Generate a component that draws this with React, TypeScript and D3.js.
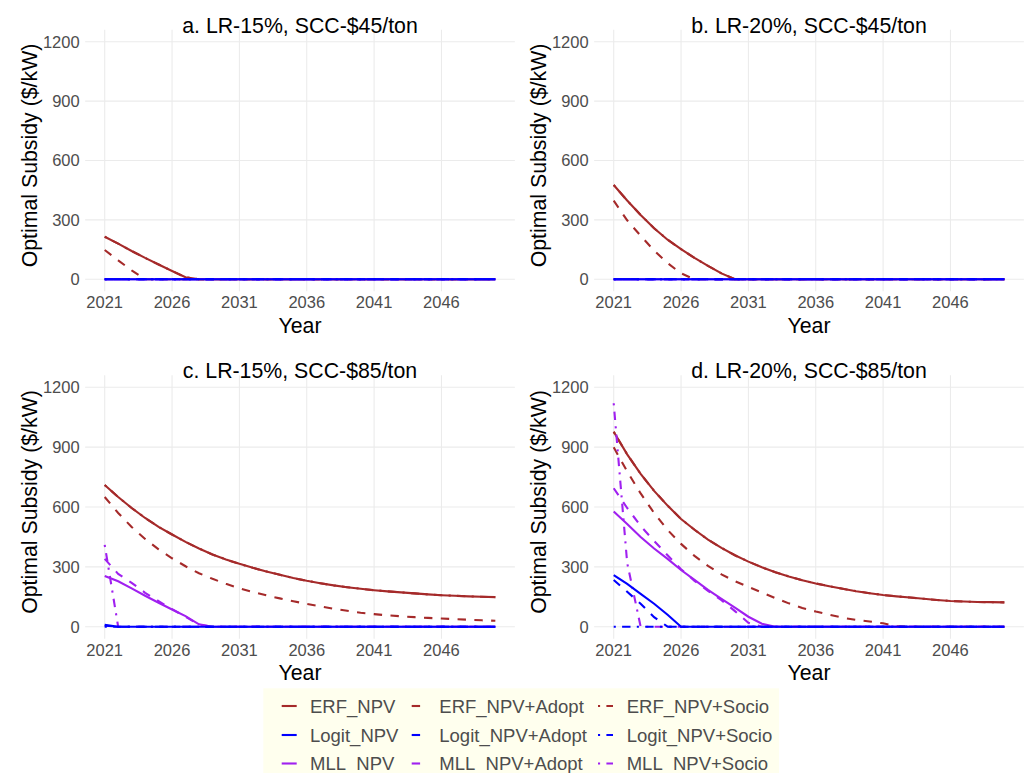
import React, { useRef, useEffect } from 'react';
import * as d3 from 'd3';

const years = [2021, 2022, 2023, 2024, 2025, 2026, 2027, 2028, 2029, 2030,
    2031, 2032, 2033, 2034, 2035, 2036, 2037, 2038, 2039, 2040,
    2041, 2042, 2043, 2044, 2045, 2046, 2047, 2048, 2049, 2050];

const yTicks = [0, 300, 600, 900, 1200];
const xTicks = [2021, 2026, 2031, 2036, 2041, 2046];

// a. LR-15%, SCC-$45/ton
const erfNpvA = [215, 180, 143, 108, 75, 42, 10, 0, 0, 0, 0, 0, 0, 0, 0, 0, 0, 0, 0, 0, 0, 0, 0, 0, 0, 0, 0, 0, 0, 0];
const erfAdoptA = [148, 96, 45, 0, 0, 0, 0, 0, 0, 0, 0, 0, 0, 0, 0, 0, 0, 0, 0, 0, 0, 0, 0, 0, 0, 0, 0, 0, 0, 0];
const erfSocioA = [215, 180, 143, 108, 75, 42, 10, 0, 0, 0, 0, 0, 0, 0, 0, 0, 0, 0, 0, 0, 0, 0, 0, 0, 0, 0, 0, 0, 0, 0];
const logitNpvA = [0, 0, 0, 0, 0, 0, 0, 0, 0, 0, 0, 0, 0, 0, 0, 0, 0, 0, 0, 0, 0, 0, 0, 0, 0, 0, 0, 0, 0, 0];
const logitAdoptA = [0, 0, 0, 0, 0, 0, 0, 0, 0, 0, 0, 0, 0, 0, 0, 0, 0, 0, 0, 0, 0, 0, 0, 0, 0, 0, 0, 0, 0, 0];
const logitSocioA = [0, 0, 0, 0, 0, 0, 0, 0, 0, 0, 0, 0, 0, 0, 0, 0, 0, 0, 0, 0, 0, 0, 0, 0, 0, 0, 0, 0, 0, 0];
const mllNpvA = [0, 0, 0, 0, 0, 0, 0, 0, 0, 0, 0, 0, 0, 0, 0, 0, 0, 0, 0, 0, 0, 0, 0, 0, 0, 0, 0, 0, 0, 0];
const mllAdoptA = [0, 0, 0, 0, 0, 0, 0, 0, 0, 0, 0, 0, 0, 0, 0, 0, 0, 0, 0, 0, 0, 0, 0, 0, 0, 0, 0, 0, 0, 0];
const mllSocioA = [0, 0, 0, 0, 0, 0, 0, 0, 0, 0, 0, 0, 0, 0, 0, 0, 0, 0, 0, 0, 0, 0, 0, 0, 0, 0, 0, 0, 0, 0];

// b. LR-20%, SCC-$45/ton
const erfNpvB = [476, 398, 325, 258, 200, 152, 108, 68, 30, 0, 0, 0, 0, 0, 0, 0, 0, 0, 0, 0, 0, 0, 0, 0, 0, 0, 0, 0, 0, 0];
const erfAdoptB = [397, 298, 220, 145, 82, 30, 0, 0, 0, 0, 0, 0, 0, 0, 0, 0, 0, 0, 0, 0, 0, 0, 0, 0, 0, 0, 0, 0, 0, 0];
const erfSocioB = [476, 398, 325, 258, 200, 152, 108, 68, 30, 0, 0, 0, 0, 0, 0, 0, 0, 0, 0, 0, 0, 0, 0, 0, 0, 0, 0, 0, 0, 0];
const logitNpvB = [0, 0, 0, 0, 0, 0, 0, 0, 0, 0, 0, 0, 0, 0, 0, 0, 0, 0, 0, 0, 0, 0, 0, 0, 0, 0, 0, 0, 0, 0];
const logitAdoptB = [0, 0, 0, 0, 0, 0, 0, 0, 0, 0, 0, 0, 0, 0, 0, 0, 0, 0, 0, 0, 0, 0, 0, 0, 0, 0, 0, 0, 0, 0];
const logitSocioB = [0, 0, 0, 0, 0, 0, 0, 0, 0, 0, 0, 0, 0, 0, 0, 0, 0, 0, 0, 0, 0, 0, 0, 0, 0, 0, 0, 0, 0, 0];
const mllNpvB = [0, 0, 0, 0, 0, 0, 0, 0, 0, 0, 0, 0, 0, 0, 0, 0, 0, 0, 0, 0, 0, 0, 0, 0, 0, 0, 0, 0, 0, 0];
const mllAdoptB = [0, 0, 0, 0, 0, 0, 0, 0, 0, 0, 0, 0, 0, 0, 0, 0, 0, 0, 0, 0, 0, 0, 0, 0, 0, 0, 0, 0, 0, 0];
const mllSocioB = [0, 0, 0, 0, 0, 0, 0, 0, 0, 0, 0, 0, 0, 0, 0, 0, 0, 0, 0, 0, 0, 0, 0, 0, 0, 0, 0, 0, 0, 0];

// c. LR-15%, SCC-$85/ton
const erfNpvC = [710, 650, 595, 545, 500, 462, 425, 392, 362, 337, 315, 295, 277, 260, 244, 230, 218, 207, 198, 190, 183, 177, 172, 167, 162, 158, 155, 152, 150, 148];
const erfAdoptC = [650, 570, 500, 440, 388, 343, 303, 268, 240, 215, 193, 174, 157, 142, 128, 114, 102, 90, 80, 70, 63, 57, 52, 48, 44, 41, 38, 35, 32, 30];
const erfSocioC = [710, 650, 595, 545, 500, 462, 425, 392, 362, 337, 315, 295, 277, 260, 244, 230, 218, 207, 198, 190, 183, 177, 172, 167, 162, 158, 155, 152, 150, 148];
const logitNpvC = [10, 0, 0, 0, 0, 0, 0, 0, 0, 0, 0, 0, 0, 0, 0, 0, 0, 0, 0, 0, 0, 0, 0, 0, 0, 0, 0, 0, 0, 0];
const logitAdoptC = [5, 0, 0, 0, 0, 0, 0, 0, 0, 0, 0, 0, 0, 0, 0, 0, 0, 0, 0, 0, 0, 0, 0, 0, 0, 0, 0, 0, 0, 0];
const logitSocioC = [0, 0, 0, 0, 0, 0, 0, 0, 0, 0, 0, 0, 0, 0, 0, 0, 0, 0, 0, 0, 0, 0, 0, 0, 0, 0, 0, 0, 0, 0];
const mllNpvC = [254, 228, 192, 155, 120, 86, 53, 12, 0, 0, 0, 0, 0, 0, 0, 0, 0, 0, 0, 0, 0, 0, 0, 0, 0, 0, 0, 0, 0, 0];
const mllAdoptC = [340, 265, 220, 170, 128, 88, 50, 10, 0, 0, 0, 0, 0, 0, 0, 0, 0, 0, 0, 0, 0, 0, 0, 0, 0, 0, 0, 0, 0, 0];
const mllSocioC = [410, 0, 0, 0, 0, 0, 0, 0, 0, 0, 0, 0, 0, 0, 0, 0, 0, 0, 0, 0, 0, 0, 0, 0, 0, 0, 0, 0, 0, 0];

// d. LR-20%, SCC-$85/ton
const erfNpvD = [977, 864, 766, 681, 607, 540, 486, 437, 395, 358, 326, 298, 273, 252, 233, 217, 203, 190, 178, 168, 159, 152, 146, 140, 134, 129, 126, 124, 123, 122];
const erfAdoptD = [899, 778, 668, 570, 485, 415, 355, 305, 262, 228, 199, 172, 143, 117, 94, 76, 60, 45, 34, 26, 17, 2, 0, 0, 0, 0, 0, 0, 0, 0];
const erfSocioD = [977, 864, 766, 681, 607, 540, 486, 437, 395, 358, 326, 298, 273, 252, 233, 217, 203, 190, 178, 168, 159, 152, 146, 140, 134, 129, 126, 124, 123, 122];
const logitNpvD = [259, 215, 165, 115, 60, 0, 0, 0, 0, 0, 0, 0, 0, 0, 0, 0, 0, 0, 0, 0, 0, 0, 0, 0, 0, 0, 0, 0, 0, 0];
const logitAdoptD = [234, 175, 115, 48, 0, 0, 0, 0, 0, 0, 0, 0, 0, 0, 0, 0, 0, 0, 0, 0, 0, 0, 0, 0, 0, 0, 0, 0, 0, 0];
const logitSocioD = [0, 0, 0, 0, 0, 0, 0, 0, 0, 0, 0, 0, 0, 0, 0, 0, 0, 0, 0, 0, 0, 0, 0, 0, 0, 0, 0, 0, 0, 0];
const mllNpvD = [577, 515, 450, 392, 340, 284, 235, 185, 140, 95, 50, 15, 0, 0, 0, 0, 0, 0, 0, 0, 0, 0, 0, 0, 0, 0, 0, 0, 0, 0];
const mllAdoptD = [694, 595, 505, 430, 358, 288, 230, 180, 133, 78, 20, 0, 0, 0, 0, 0, 0, 0, 0, 0, 0, 0, 0, 0, 0, 0, 0, 0, 0, 0];
const mllSocioD = [1120, 320, 0, 0, 0, 0, 0, 0, 0, 0, 0, 0, 0, 0, 0, 0, 0, 0, 0, 0, 0, 0, 0, 0, 0, 0, 0, 0, 0, 0];

const seriesNames = ['ERF_NPV', 'ERF_NPV+Adopt', 'ERF_NPV+Socio',
    'Logit_NPV', 'Logit_NPV+Adopt', 'Logit_NPV+Socio',
    'MLL_NPV', 'MLL_NPV+Adopt', 'MLL_NPV+Socio'];

const panels = [
    { title: 'a. LR-15%, SCC-$45/ton', row: 0, col: 0,
      series: [erfNpvA, erfAdoptA, erfSocioA, logitNpvA, logitAdoptA, logitSocioA, mllNpvA, mllAdoptA, mllSocioA] },
    { title: 'b. LR-20%, SCC-$45/ton', row: 0, col: 1,
      series: [erfNpvB, erfAdoptB, erfSocioB, logitNpvB, logitAdoptB, logitSocioB, mllNpvB, mllAdoptB, mllSocioB] },
    { title: 'c. LR-15%, SCC-$85/ton', row: 1, col: 0,
      series: [erfNpvC, erfAdoptC, erfSocioC, logitNpvC, logitAdoptC, logitSocioC, mllNpvC, mllAdoptC, mllSocioC] },
    { title: 'd. LR-20%, SCC-$85/ton', row: 1, col: 1,
      series: [erfNpvD, erfAdoptD, erfSocioD, logitNpvD, logitAdoptD, logitSocioD, mllNpvD, mllAdoptD, mllSocioD] },
];

const colors = ['#A52A2A', '#0000FF', '#A020F0'];
const LW = 2.1;
const dashes = ['none', `${4 * LW},${4 * LW}`, `${LW},${3 * LW},${4 * LW},${3 * LW}`];
// ERF first, then MLL, Logit on top (solid Logit last so the zero line reads solid blue)
const drawOrder = [2, 1, 0, 8, 7, 6, 5, 4, 3];

// pixel anchors of each grid cell
const rows = [{ y0: 279.3, y1200: 41.7 }, { y0: 626.7, y1200: 387.3 }];
const cols = [{ x2021: 104.7 }, { x2021: 613.7 }];
const PX_PER_YEAR = 13.47;

const FONT = "'Liberation Sans', Arial, sans-serif";

const App = () => {
    const ref = useRef<SVGSVGElement>(null);

    useEffect(() => {
        const svg = d3.select(ref.current);
        svg.selectAll('*').remove();

        svg.append('rect').attr('width', 1025).attr('height', 773).attr('fill', '#fff');

        panels.forEach(p => {
            const r = rows[p.row];
            const c = cols[p.col];
            const x = d3.scaleLinear()
                .domain([2021, 2050])
                .range([c.x2021, c.x2021 + 29 * PX_PER_YEAR]);
            const y = d3.scaleLinear()
                .domain([0, 1200])
                .range([r.y0, r.y1200]);
            const left = x(2019.55), right = x(2051.45);
            const top = y(1260), bottom = y(-60);

            const g = svg.append('g');

            // grid
            g.selectAll('.hg').data(yTicks).enter().append('line')
                .attr('x1', left).attr('x2', right)
                .attr('y1', d => y(d)).attr('y2', d => y(d))
                .attr('stroke', '#ebebeb').attr('stroke-width', 1.07);
            g.selectAll('.vg').data(xTicks).enter().append('line')
                .attr('y1', top).attr('y2', bottom)
                .attr('x1', d => x(d)).attr('x2', d => x(d))
                .attr('stroke', '#ebebeb').attr('stroke-width', 1.07);

            // lines
            const line = d3.line<number>()
                .x((_, i) => x(years[i]))
                .y(d => y(d));
            drawOrder.forEach(k => {
                g.append('path')
                    .datum(p.series[k])
                    .attr('d', line)
                    .attr('fill', 'none')
                    .attr('stroke', colors[Math.floor(k / 3)])
                    .attr('stroke-width', LW)
                    .attr('stroke-dasharray', dashes[k % 3]);
            });

            // tick labels
            g.selectAll('.yl').data(yTicks).enter().append('text')
                .attr('x', left - 5.5).attr('y', d => y(d) + 5.9)
                .attr('text-anchor', 'end')
                .attr('font-family', FONT).attr('font-size', 16.5).attr('fill', '#4d4d4d')
                .text(d => d);
            g.selectAll('.xl').data(xTicks).enter().append('text')
                .attr('x', d => x(d)).attr('y', r.y0 + 29)
                .attr('text-anchor', 'middle')
                .attr('font-family', FONT).attr('font-size', 16.5).attr('fill', '#4d4d4d')
                .text(d => d);

            // titles
            g.append('text')
                .attr('x', (left + right) / 2).attr('y', top + 3)
                .attr('text-anchor', 'middle')
                .attr('font-family', FONT).attr('font-size', 21.3).attr('fill', '#000')
                .text(p.title);
            g.append('text')
                .attr('x', (left + right) / 2).attr('y', r.y0 + 53.5)
                .attr('text-anchor', 'middle')
                .attr('font-family', FONT).attr('font-size', 21.3).attr('fill', '#000')
                .text('Year');
            const ty = (top + bottom) / 2 - 5;
            g.append('text')
                .attr('transform', `translate(${left - 48.6},${ty}) rotate(-90)`)
                .attr('text-anchor', 'middle')
                .attr('font-family', FONT).attr('font-size', 21.3).attr('fill', '#000')
                .text('Optimal Subsidy ($/kW)');
        });

        // legend
        const lg = svg.append('g');
        lg.append('rect')
            .attr('x', 263.3).attr('y', 688.3)
            .attr('width', 515.7).attr('height', 120)
            .attr('fill', '#FFFFEE');
        const rowY = [706, 735, 763.5];
        const keyX = [281.7, 411.7, 598];
        const textX = [310, 439.3, 626.7];
        seriesNames.forEach((name, k) => {
            const model = Math.floor(k / 3);
            const type = k % 3;
            lg.append('line')
                .attr('x1', keyX[type]).attr('x2', keyX[type] + 15)
                .attr('y1', rowY[model]).attr('y2', rowY[model])
                .attr('stroke', colors[model])
                .attr('stroke-width', LW)
                .attr('stroke-dasharray', dashes[type]);
            lg.append('text')
                .attr('x', textX[type]).attr('y', rowY[model] + 6.5)
                .attr('font-family', FONT).attr('font-size', 18.5).attr('fill', '#4d4d4d')
                .text(name);
        });
    }, []);

    return (
        <svg ref={ref} width={1025} height={773}
            style={{ position: 'absolute', left: 0, top: 0, display: 'block' }}></svg>
    );
};

export default App;
